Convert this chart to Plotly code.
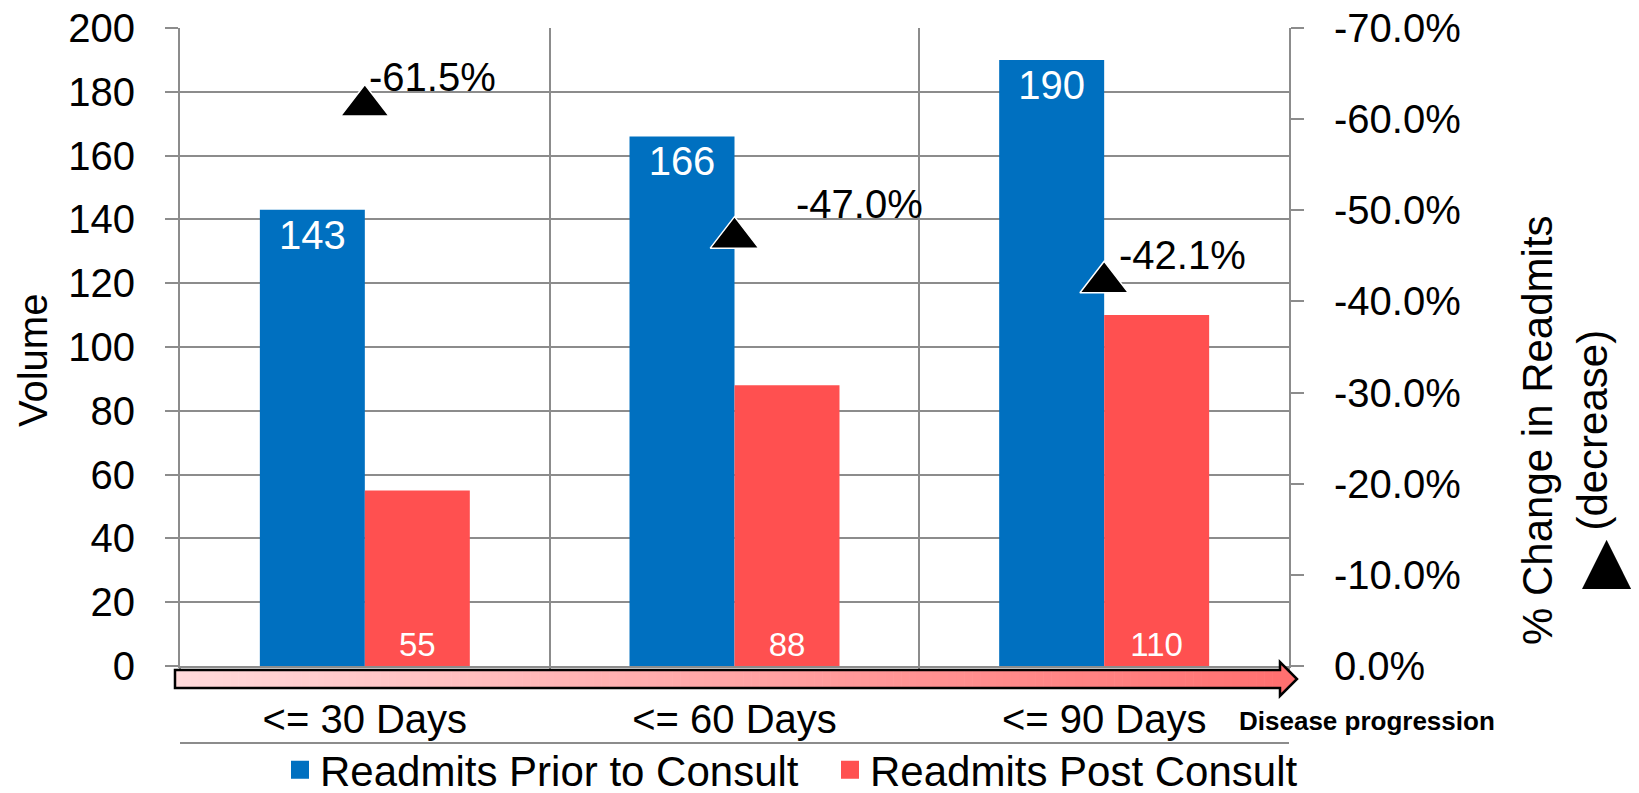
import plotly.graph_objects as go

# ---------------- data ----------------
categories = ["<= 30 Days", "<= 60 Days", "<= 90 Days"]
prior_consult = [143, 166, 190]
post_consult = [55, 88, 110]
pct_change = [-61.5, -47.0, -42.1]

volume_ticks = [0, 20, 40, 60, 80, 100, 120, 140, 160, 180, 200]
pct_ticks = [0.0, -10.0, -20.0, -30.0, -40.0, -50.0, -60.0, -70.0]
pct_tick_labels = ["0.0%", "-10.0%", "-20.0%", "-30.0%", "-40.0%", "-50.0%", "-60.0%", "-70.0%"]

series_names = ["Readmits Prior to Consult", "Readmits Post Consult"]
BLUE = "#0070C0"
RED = "#FF5050"
GRID = "#8C8C8C"
FONT = "Liberation Sans, Arial, sans-serif"

# page geometry (pixels in the screenshot); page body has an 8px margin
W, H = 1639, 793
OFF = 8
PL, PR, PT, PB = 180, 1289, 28, 666  # plot area edges in screenshot pixels
FW, FH = W - OFF, H - OFF


def px(xp):
    return (xp - PL) / (PR - PL)


def py(yp):
    return (PB - yp) / (PB - PT)


fig = go.Figure()

fig.add_trace(go.Bar(
    x=categories, y=prior_consult, name=series_names[0],
    marker=dict(color=BLUE, line=dict(width=0)),
    text=prior_consult, textposition="inside", insidetextanchor="end",
    textangle=0, textfont=dict(color="white", size=40, family=FONT),
    showlegend=False,
))
fig.add_trace(go.Bar(
    x=categories, y=post_consult, name=series_names[1],
    marker=dict(color=RED, line=dict(width=0)),
    text=post_consult, textposition="inside", insidetextanchor="start",
    textangle=0, textfont=dict(color="white", size=33, family=FONT),
    showlegend=False,
))
fig.add_trace(go.Scatter(
    x=categories, y=pct_change, yaxis="y2", mode="markers",
    marker=dict(symbol="triangle-up", size=42, color="black",
                line=dict(color="white", width=1.5)),
    showlegend=False, cliponaxis=False,
))

# legend proxies (bigger squares than bar legend symbols)
for name, col in zip(series_names, [BLUE, RED]):
    fig.add_trace(go.Scatter(
        x=[None], y=[None], mode="markers", name=name,
        marker=dict(symbol="square", size=16, color=col, line=dict(color=col, width=2)),
        showlegend=True,
    ))

# percent-change labels
offsets = [(2, 28), (59, 34), (13, 27)]
annotations = []
for cat, v, (dx, dy) in zip(categories, pct_change, offsets):
    annotations.append(dict(
        x=cat, y=v, xref="x", yref="y2", text=f"{v:.1f}%", showarrow=False,
        xanchor="left", yanchor="middle", xshift=dx, yshift=dy,
        font=dict(size=40, color="black", family=FONT),
    ))

# axis titles
annotations.append(dict(
    x=px(33), y=py(361), xref="paper", yref="paper", text="Volume", showarrow=False,
    textangle=-90, font=dict(size=40, color="black", family=FONT),
    xanchor="center", yanchor="middle",
))
annotations.append(dict(
    x=px(1565), y=py(430), xref="paper", yref="paper",
    text="% Change in Readmits<br>(decrease)", showarrow=False,
    textangle=-90, font=dict(size=42, color="black", family=FONT),
    xanchor="center", yanchor="middle",
))
annotations.append(dict(
    x=px(1607), y=py(560), xref="paper", yref="paper", text="▲", showarrow=False,
    font=dict(size=84, color="black", family=FONT), xanchor="center", yanchor="middle",
))
annotations.append(dict(
    x=px(1237), y=py(721), xref="paper", yref="paper", text="<b>Disease progression</b>",
    showarrow=False, font=dict(size=26, color="black", family=FONT),
    xanchor="left", yanchor="middle",
))

# gradient arrow below the axis
shapes = []
x_start, x_body_end, x_tip = 175, 1280, 1297
y_top, y_bot, head_top, head_bot = 670, 688, 662, 696
c0 = (255, 218, 219)
c1 = (255, 112, 112)
n = 140
for i in range(n):
    t = (i + 0.5) / n
    col = tuple(round(a + (b - a) * t) for a, b in zip(c0, c1))
    xa = x_start + (x_body_end - x_start) * i / n
    xb = x_start + (x_body_end - x_start) * (i + 1) / n + 0.6
    shapes.append(dict(type="rect", xref="paper", yref="paper",
                       x0=px(xa), x1=px(xb), y0=py(y_bot), y1=py(y_top),
                       fillcolor="rgb(%d,%d,%d)" % col, line=dict(width=0), layer="above"))


def pth(points):
    return "M" + " L".join(f"{px(a):.5f},{py(b):.5f}" for a, b in points) + " Z"


shapes.append(dict(type="path", xref="paper", yref="paper",
                   path=pth([(x_body_end, head_top), (x_tip, (head_top + head_bot) / 2), (x_body_end, head_bot)]),
                   fillcolor="rgb(%d,%d,%d)" % c1, line=dict(width=0), layer="above"))
shapes.append(dict(type="path", xref="paper", yref="paper",
                   path=pth([(x_start, y_top), (x_body_end, y_top), (x_body_end, head_top),
                             (x_tip, (head_top + head_bot) / 2), (x_body_end, head_bot),
                             (x_body_end, y_bot), (x_start, y_bot)]),
                   fillcolor="rgba(0,0,0,0)", line=dict(color="black", width=2.5), layer="above"))
# line under category labels
shapes.append(dict(type="line", xref="paper", yref="paper", x0=0, x1=1, y0=py(743), y1=py(743),
                   line=dict(color=GRID, width=2)))

fig.update_layout(
    width=FW, height=FH,
    margin=dict(l=PL - OFF, r=FW - (PR - OFF), t=PT - OFF, b=FH - (PB - OFF), pad=0,
                autoexpand=False),
    plot_bgcolor="white", paper_bgcolor="white",
    barmode="group", bargap=0.432, bargroupgap=0,
    font=dict(family=FONT, size=40, color="black"),
    xaxis=dict(
        type="category", tickson="boundaries", showgrid=True, gridcolor=GRID, gridwidth=2,
        showline=True, linecolor=GRID, linewidth=2, ticks="outside", ticklen=6,
        tickcolor=GRID, tickwidth=2, ticklabelstandoff=17, ticklabeloverflow="allow",
        tickfont=dict(size=40, family=FONT, color="black"), zeroline=False,
    ),
    yaxis=dict(
        range=[0, 200], tickvals=volume_ticks, showgrid=True, gridcolor=GRID, gridwidth=2,
        showline=True, linecolor=GRID, linewidth=2, ticks="outside", ticklen=13,
        tickcolor=GRID, tickwidth=2, ticklabelstandoff=22, zeroline=False,
        ticklabeloverflow="allow",
        tickfont=dict(size=40, family=FONT, color="black"),
    ),
    yaxis2=dict(
        overlaying="y", side="right", range=[0, -70],
        tickvals=pct_ticks, ticktext=pct_tick_labels, showgrid=False,
        showline=True, linecolor=GRID, linewidth=2, ticks="outside", ticklen=13,
        tickcolor=GRID, tickwidth=2, ticklabelstandoff=22, zeroline=False,
        ticklabeloverflow="allow",
        tickfont=dict(size=40, family=FONT, color="black"),
    ),
    legend=dict(
        orientation="h", x=px(280), y=py(770), xanchor="left", yanchor="middle",
        font=dict(size=42, family=FONT, color="black"),
        entrywidth=505, entrywidthmode="pixels", bgcolor="rgba(0,0,0,0)",
    ),
    annotations=annotations,
    shapes=shapes,
)

fig.write_html("out.html")
